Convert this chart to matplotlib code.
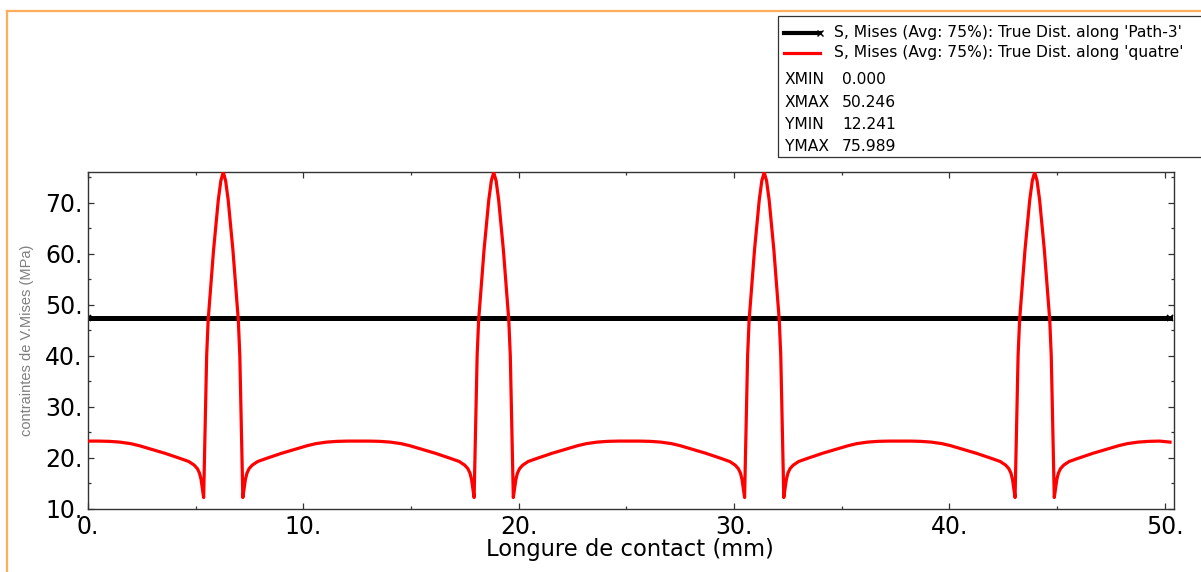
import matplotlib
matplotlib.use("Agg")
import matplotlib.pyplot as plt
from matplotlib.lines import Line2D
from matplotlib.patches import Rectangle
from matplotlib.ticker import MultipleLocator, FuncFormatter

# Path-3 : contrainte quasi constante le long du chemin
path3_x = [0.0, 50.246]
path3_y = [47.4, 47.4]

# quatre : quatre zones de contact sur la longueur
quatre_x = [
    0.00, 0.48, 0.98, 1.48, 1.98, 2.38, 2.78, 3.18, 3.58, 3.93, 4.28, 4.68, 4.93, 5.08, 5.18, 5.25, 5.31, 5.37,
    5.41, 5.46, 5.51, 5.58, 5.70, 5.83, 5.94, 6.05, 6.17, 6.28, 6.39, 6.51, 6.62, 6.73, 6.86, 6.98, 7.05, 7.10, 7.15,
    7.19, 7.25, 7.31, 7.38, 7.48, 7.63, 7.88, 8.28, 8.63, 8.98, 9.38, 9.78, 10.18, 10.58, 11.08, 11.58, 12.08,
    12.56, 13.04, 13.54, 14.04, 14.54, 14.94, 15.34, 15.74, 16.14, 16.49, 16.84, 17.24, 17.49, 17.64, 17.74, 17.81, 17.87, 17.93,
    17.97, 18.02, 18.07, 18.14, 18.26, 18.39, 18.50, 18.61, 18.73, 18.84, 18.95, 19.07, 19.18, 19.29, 19.42, 19.54, 19.61, 19.66, 19.71,
    19.75, 19.81, 19.87, 19.94, 20.04, 20.19, 20.44, 20.84, 21.19, 21.54, 21.94, 22.34, 22.74, 23.14, 23.64, 24.14, 24.64,
    25.12, 25.60, 26.10, 26.60, 27.10, 27.50, 27.90, 28.30, 28.70, 29.05, 29.40, 29.80, 30.05, 30.20, 30.30, 30.37, 30.43, 30.49,
    30.53, 30.58, 30.63, 30.70, 30.82, 30.95, 31.06, 31.17, 31.29, 31.40, 31.51, 31.63, 31.74, 31.85, 31.98, 32.10, 32.17, 32.22, 32.27,
    32.31, 32.37, 32.43, 32.50, 32.60, 32.75, 33.00, 33.40, 33.75, 34.10, 34.50, 34.90, 35.30, 35.70, 36.20, 36.70, 37.20,
    37.68, 38.16, 38.66, 39.16, 39.66, 40.06, 40.46, 40.86, 41.26, 41.61, 41.96, 42.36, 42.61, 42.76, 42.86, 42.93, 42.99, 43.05,
    43.09, 43.14, 43.19, 43.26, 43.38, 43.51, 43.62, 43.73, 43.85, 43.96, 44.07, 44.19, 44.30, 44.41, 44.54, 44.66, 44.73, 44.78, 44.83,
    44.87, 44.93, 44.99, 45.06, 45.16, 45.31, 45.56, 45.96, 46.31, 46.66, 47.06, 47.46, 47.86, 48.26, 48.76, 49.26, 49.76, 50.246,
]
quatre_y = [
    23.3, 23.3, 23.25, 23.1, 22.8, 22.4, 21.9, 21.4, 20.9, 20.4, 19.9, 19.3, 18.6, 17.9, 17.0, 15.8, 14.0, 12.241,
    20.0, 30.0, 40.0, 47.0, 53.5, 60.7, 65.5, 70.5, 74.3, 75.989, 74.3, 70.5, 65.5, 60.7, 53.5, 47.0, 40.0, 30.0, 20.0,
    12.241, 14.0, 15.8, 17.0, 17.9, 18.6, 19.3, 19.9, 20.4, 20.9, 21.4, 21.9, 22.4, 22.8, 23.1, 23.25, 23.3,
    23.3, 23.3, 23.25, 23.1, 22.8, 22.4, 21.9, 21.4, 20.9, 20.4, 19.9, 19.3, 18.6, 17.9, 17.0, 15.8, 14.0, 12.241,
    20.0, 30.0, 40.0, 47.0, 53.5, 60.7, 65.5, 70.5, 74.3, 75.9, 74.3, 70.5, 65.5, 60.7, 53.5, 47.0, 40.0, 30.0, 20.0,
    12.241, 14.0, 15.8, 17.0, 17.9, 18.6, 19.3, 19.9, 20.4, 20.9, 21.4, 21.9, 22.4, 22.8, 23.1, 23.25, 23.3,
    23.3, 23.3, 23.25, 23.1, 22.8, 22.4, 21.9, 21.4, 20.9, 20.4, 19.9, 19.3, 18.6, 17.9, 17.0, 15.8, 14.0, 12.241,
    20.0, 30.0, 40.0, 47.0, 53.5, 60.7, 65.5, 70.5, 74.3, 75.9, 74.3, 70.5, 65.5, 60.7, 53.5, 47.0, 40.0, 30.0, 20.0,
    12.241, 14.0, 15.8, 17.0, 17.9, 18.6, 19.3, 19.9, 20.4, 20.9, 21.4, 21.9, 22.4, 22.8, 23.1, 23.25, 23.3,
    23.3, 23.3, 23.25, 23.1, 22.8, 22.4, 21.9, 21.4, 20.9, 20.4, 19.9, 19.3, 18.6, 17.9, 17.0, 15.8, 14.0, 12.241,
    20.0, 30.0, 40.0, 47.0, 53.5, 60.7, 65.5, 70.5, 74.3, 75.95, 74.3, 70.5, 65.5, 60.7, 53.5, 47.0, 40.0, 30.0, 20.0,
    12.241, 14.0, 15.8, 17.0, 17.9, 18.6, 19.3, 19.9, 20.4, 20.9, 21.4, 21.9, 22.4, 22.8, 23.1, 23.25, 23.3, 23.1,
]

legend_labels = ["S, Mises (Avg: 75%): True Dist. along 'Path-3'",
                 "S, Mises (Avg: 75%): True Dist. along 'quatre'"]
stat_names = ["XMIN", "XMAX", "YMIN", "YMAX"]
stat_values = ["0.000", "50.246", "12.241", "75.989"]

W, H = 1201, 572
fig = plt.figure(figsize=(W / 100, H / 100), dpi=100)


def fx(px):
    return px / W


def fy(py):
    return 1 - py / H


ax = fig.add_axes([fx(88), fy(509), fx(1174) - fx(88), fy(172) - fy(509)])
ax.plot(path3_x, path3_y, color="black", lw=3.6, marker="x", ms=5, mew=1.2,
        markevery=[0, 1], zorder=2)
ax.plot(quatre_x, quatre_y, color="#ff0000", lw=2.3, zorder=3)

ax.set_xlim(0, 50.43)
ax.set_ylim(10, 76.0)
ax.xaxis.set_major_locator(MultipleLocator(10))
ax.xaxis.set_minor_locator(MultipleLocator(5))
ax.yaxis.set_major_locator(MultipleLocator(10))
ax.yaxis.set_minor_locator(MultipleLocator(5))
ax.xaxis.set_major_formatter(FuncFormatter(lambda v, p: f"{v:.0f}."))
ax.yaxis.set_major_formatter(FuncFormatter(lambda v, p: f"{v:.0f}."))
ax.tick_params(which="both", direction="in", top=True, right=True, width=0.9,
               color="#333333")
ax.tick_params(which="major", length=4, labelsize=17, pad=4)
ax.tick_params(which="minor", length=2)
for s in ax.spines.values():
    s.set_linewidth(1.0)
    s.set_color("#333333")

fig.text(fx(27), fy(340), "contraintes de V.Mises (MPa)", rotation=90,
         ha="center", va="center", color="#7f7f7f", fontsize=10.5,
         family="Liberation Sans")
fig.text(fx(630), fy(556), "Longure de contact (mm)", ha="center",
         va="baseline", fontsize=16.3)

# cadre orange de la fenetre
fig.add_artist(Line2D([fx(7), 1.0], [fy(11), fy(11)], color="#ffad5b", lw=1.6))
fig.add_artist(Line2D([fx(7), fx(7)], [fy(11), 0.0], color="#ffad5b", lw=1.6))

# legende avec les extremes
fig.add_artist(Rectangle((fx(778), fy(157)), 1.02 - fx(778), fy(16) - fy(157),
                         transform=fig.transFigure, fill=False,
                         edgecolor="#333333", lw=0.9))
fig.add_artist(Line2D([fx(784), fx(820)], [fy(33), fy(33)], color="black", lw=3,
                      marker="x", ms=4, mew=1, markevery=[1]))
fig.add_artist(Line2D([fx(784), fx(820)], [fy(53), fy(53)], color="#ff0000", lw=2.3))
for i, lab in enumerate(legend_labels):
    fig.text(fx(834), fy(33 + 20 * i), lab, ha="left", va="center", fontsize=11.2)
for i, (n, v) in enumerate(zip(stat_names, stat_values)):
    yy = fy(80 + 22.3 * i)
    fig.text(fx(785), yy, n, ha="left", va="center", fontsize=11.2)
    fig.text(fx(842), yy, v, ha="left", va="center", fontsize=11.2)

fig.savefig("out.png", dpi=100)
